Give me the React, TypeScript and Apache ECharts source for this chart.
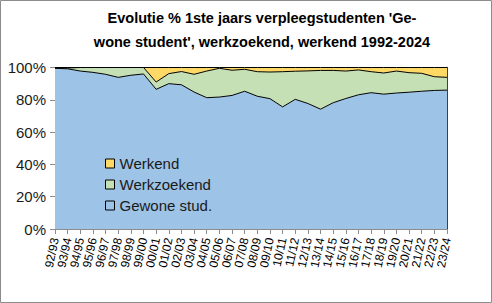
import React, { useEffect, useRef } from "react";
import * as echarts from "echarts";

const categories = [
  "92/93", "93/94", "94/95", "95/96", "96/97", "97/98", "98/99", "99/00",
  "00/01", "01/02", "02/03", "03/04", "04/05", "05/06", "06/07", "07/08",
  "08/09", "09/10", "10/11", "11/12", "12/13", "13/14", "14/15", "15/16",
  "16/17", "17/18", "18/19", "19/20", "20/21", "21/22", "22/23", "23/24",
];

const gewone = [
  99.5, 99.2, 97.8, 97.0, 95.8, 93.9, 95.2, 96.0,
  86.5, 90.0, 89.3, 84.8, 81.3, 81.7, 82.7, 85.3,
  82.2, 80.7, 75.6, 80.3, 77.7, 74.2, 78.2, 80.8,
  83.1, 84.4, 83.5, 84.2, 84.7, 85.3, 85.8, 86.0,
];

const werkzoekend = [
  0.3, 0.5, 2.2, 3.0, 4.2, 6.1, 4.8, 4.0,
  4.5, 6.2, 8.2, 11.0, 16.5, 17.8, 15.6, 13.6,
  15.2, 16.5, 21.8, 17.4, 20.2, 24.0, 20.0, 17.0,
  15.4, 13.0, 13.1, 13.6, 12.1, 11.1, 8.5, 7.9,
];

const werkend = [
  0.2, 0.3, 0.0, 0.0, 0.0, 0.0, 0.0, 0.0,
  9.0, 3.8, 2.5, 4.2, 2.2, 0.5, 1.7, 1.1,
  2.6, 2.8, 2.6, 2.3, 2.1, 1.8, 1.8, 2.2,
  1.5, 2.6, 3.4, 2.2, 3.2, 3.6, 5.7, 6.1,
];

const yTicks = [0, 20, 40, 60, 80, 100];

const titleText = "Evolutie % 1ste jaars verpleegstudenten 'Ge-\nwone student', werkzoekend, werkend 1992-2024";

export default function App() {
  const ref = useRef<HTMLDivElement>(null);

  useEffect(() => {
    document.body.style.margin = "0";
    const chart = echarts.init(ref.current!, null, { renderer: "svg" });
    const font = "'Liberation Sans', Arial, sans-serif";
    const mkSeries = (name: string, data: number[], color: string) => ({
      name,
      type: "line",
      stack: "total",
      data,
      symbol: "none",
      showSymbol: false,
      lineStyle: { color: "#000", width: 1 },
      areaStyle: { color, opacity: 1 },
      itemStyle: { color, borderColor: "#000", borderWidth: 1 },
      emphasis: { disabled: true },
    });
    chart.setOption({
      animation: false,
      backgroundColor: "#fff",
      textStyle: { fontFamily: font },
      graphic: [
        {
          type: "rect",
          shape: { x: 0.5, y: 0.5, width: 491, height: 302 },
          style: { fill: "none", stroke: "#8c8c8c", lineWidth: 1 },
          silent: true,
        },
        {
          type: "text",
          x: 262,
          y: 6,
          style: {
            text: titleText,
            fontFamily: font,
            fontWeight: "bold",
            fontSize: 14.5,
            lineHeight: 24,
            fill: "#000",
            align: "center",
          },
        },
      ],
      legend: {
        orient: "vertical",
        left: 105,
        top: 153,
        padding: 0,
        itemGap: 0,
        itemWidth: 9,
        itemHeight: 9,
        icon: "rect",
        selectedMode: false,
        data: ["Werkend", "Werkzoekend", "Gewone stud."],
        itemStyle: { borderColor: "#000", borderWidth: 1 },
        textStyle: { fontSize: 15, color: "#1a1a1a", lineHeight: 21, fontFamily: font, padding: [0, 0, 0, 0] },
      },
      grid: { left: 55, right: 45, top: 67.5, bottom: 74 },
      xAxis: {
        type: "category",
        data: categories,
        boundaryGap: false,
        axisLine: { show: true, lineStyle: { color: "#8c8c8c", width: 1 } },
        axisTick: { show: true, interval: 0, length: 5, lineStyle: { color: "#8c8c8c" } },
        axisLabel: {
          interval: 0,
          rotate: 78,
          fontSize: 12,
          color: "#000",
          margin: 9,
          fontFamily: font,
        },
        splitLine: { show: false },
      },
      yAxis: [
        {
          type: "value",
          min: yTicks[0],
          max: yTicks[yTicks.length - 1],
          interval: 20,
          axisLine: { show: true, lineStyle: { color: "#8c8c8c", width: 1 } },
          axisTick: { show: true, length: 5, lineStyle: { color: "#8c8c8c" } },
          axisLabel: { formatter: "{value}%", fontSize: 15, color: "#1a1a1a", margin: 9, fontFamily: font },
          splitLine: { show: false },
        },
        {
          type: "value",
          position: "right",
          min: 0,
          max: 100,
          interval: 20,
          axisLine: { show: true, lineStyle: { color: "#000", width: 1.5 } },
          axisTick: { show: false },
          axisLabel: { show: false },
          splitLine: { show: false },
        },
      ],
      series: [
        mkSeries("Gewone stud.", gewone, "#9dc3e6"),
        mkSeries("Werkzoekend", werkzoekend, "#c5e0b4"),
        mkSeries("Werkend", werkend, "#ffd966"),
      ],
    });
    return () => chart.dispose();
  }, []);

  return <div ref={ref} style={{ width: 492, height: 303 }} />;
}
